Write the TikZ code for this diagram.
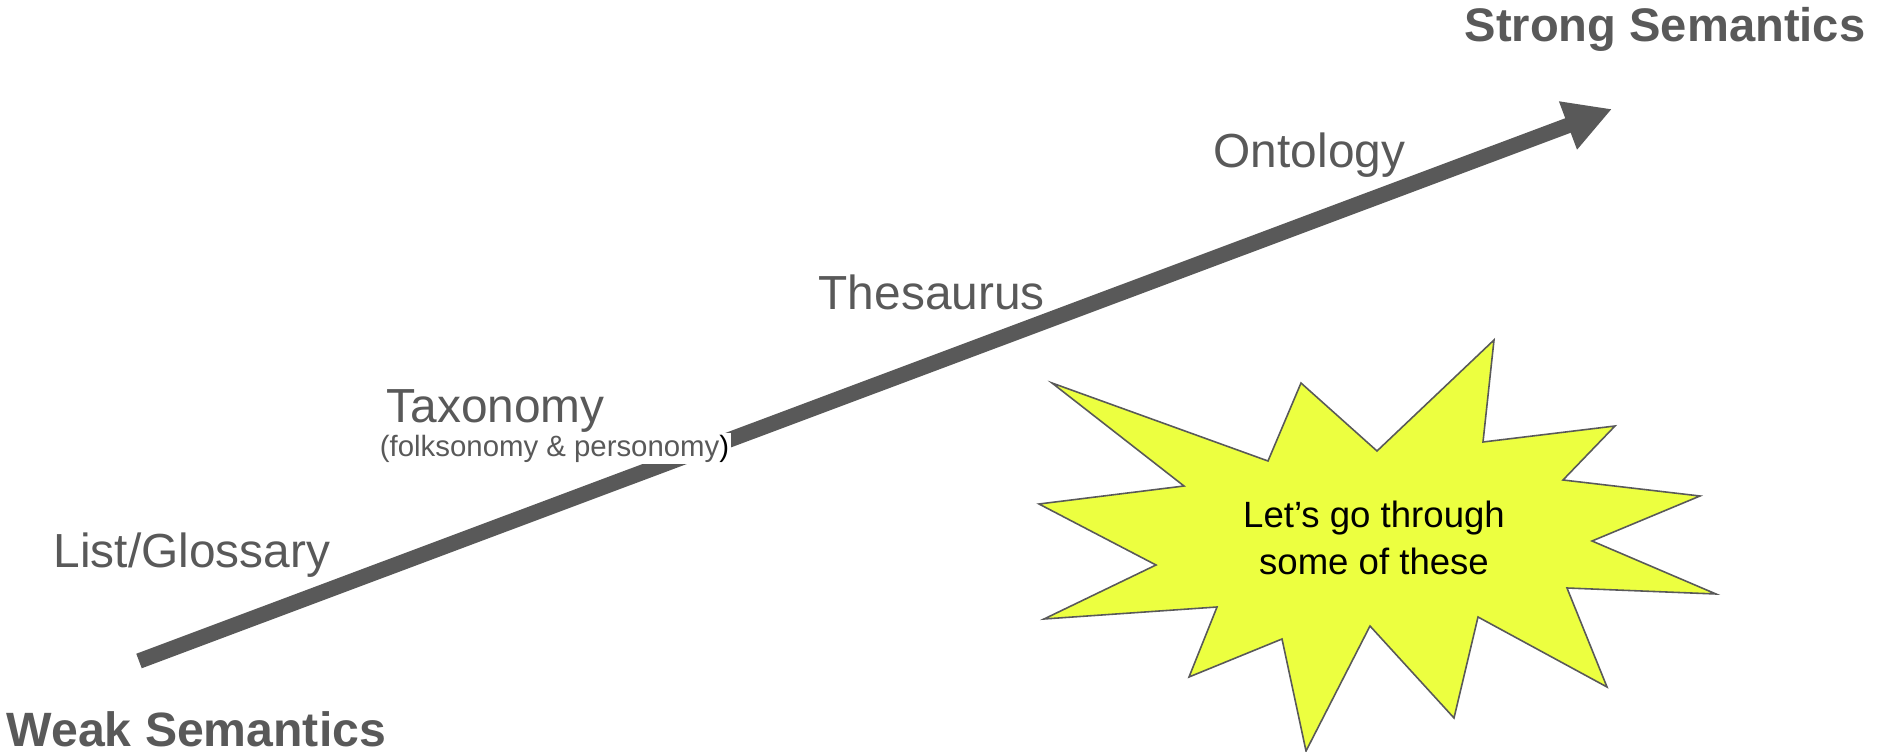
\documentclass[tikz,border=0pt]{standalone}
\usepackage{fontspec}
\setmainfont{Liberation Sans}
\usetikzlibrary{arrows.meta}

\definecolor{ink}{RGB}{89,89,89}
\definecolor{burstfill}{RGB}{236,255,64}

\begin{document}
\begin{tikzpicture}[x=0.01cm, y=-0.01cm,
  pole/.style={inner sep=0pt, anchor=base west, text=ink,
    font=\fontsize{13.4pt}{15pt}\selectfont\bfseries},
  level/.style={inner sep=0pt, anchor=base west, text=ink,
    font=\fontsize{13.6pt}{16pt}\selectfont},
  note/.style={inner sep=0.6pt, text=ink, fill=white,
    font=\fontsize{8.35pt}{10pt}\selectfont},
  axis/.style={draw=ink, line width=0.155cm,
    -{Triangle[length=0.47cm, width=0.48cm]}},
  burst/.style={draw=ink, line width=0.45pt, fill=burstfill, line join=miter},
  callout/.style={inner sep=0pt, anchor=base, text=black,
    font=\fontsize{10.4pt}{12pt}\selectfont}
]
\useasboundingbox (0,0) rectangle (1878,752);

% semantic axis
\coordinate (weak) at (139,661);
\coordinate (strong) at (1612,109);
\draw[axis] (weak) -- (strong);

% end labels
\node[pole, anchor=base east] (strongtxt) at (1866,42) {Strong Semantics};
\node[pole, font=\fontsize{13.7pt}{15pt}\selectfont\bfseries] (weaktxt) at (6,747) {Weak Semantics};

% levels along the axis
\node[level] (list) at (53,568) {List/Glossary};
\node[level] (taxonomy) at (386,423) {Taxonomy};
\node[note, anchor=south east] (folk) at (732,465)
  {(folksonomy \& personomy\textcolor{black}{)}};
\node[level] (thesaurus) at (818,310) {Thesaurus};
\node[level] (ontology) at (1213,168) {Ontology};

% starburst callout
\draw[burst] (1052,383) -- (1268,461) -- (1301,383) -- (1377,451)
  -- (1494,340) -- (1483,442) -- (1615,426) -- (1563,480)
  -- (1700,496) -- (1592,541) -- (1716,594) -- (1567,588)
  -- (1607,687) -- (1478,617) -- (1454,718) -- (1370,626)
  -- (1306,751) -- (1282,639) -- (1189,677) -- (1217,607)
  -- (1044,619) -- (1156,565) -- (1039,504) -- (1184,486) -- cycle;
\node[callout] (call1) at (1374,528) {Let’s go through};
\node[callout] (call2) at (1374,574) {some of these};
\end{tikzpicture}
\end{document}
